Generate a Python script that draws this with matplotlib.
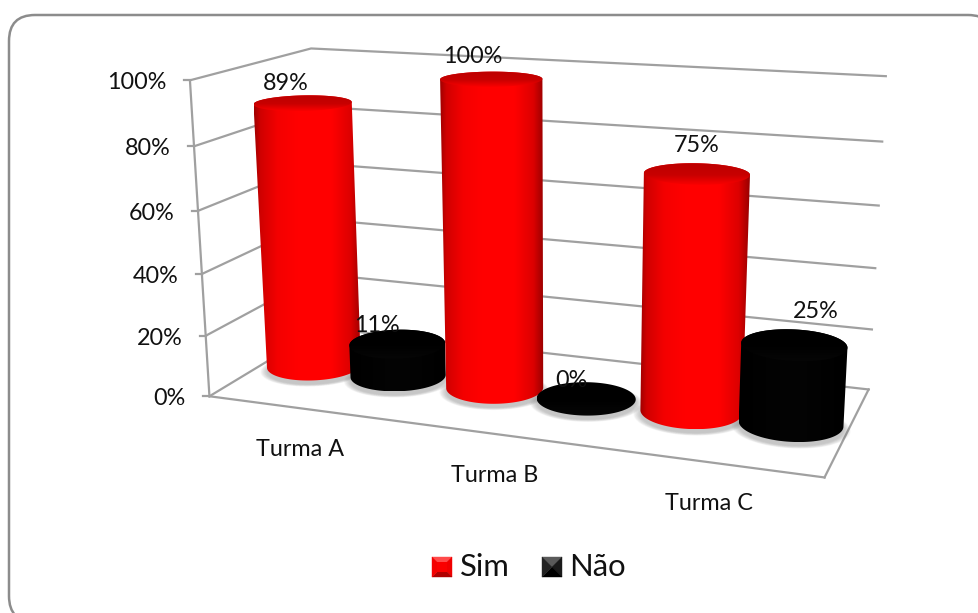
import matplotlib
matplotlib.use("Agg")
import matplotlib.pyplot as plt
import numpy as np
from matplotlib.colors import LinearSegmentedColormap
from matplotlib.patches import FancyBboxPatch, Polygon

categories = ["Turma A", "Turma B", "Turma C"]
sim_values = [89, 100, 75]
nao_values = [11, 0, 25]
y_ticks = [0, 20, 40, 60, 80, 100]
series_names = ["Sim", "Não"]

GRID = "#a0a0a0"
TEXT = "#111111"
FONT = "Lato"
BAR_HEIGHT = 0.99
# the two bars of a group overlap a little
SIM_SHIFT = 0.003
NAO_SHIFT = -0.005

# box corners (x, depth, height) -> picture pixels, used to fit the 3d view
BOX_CORNERS = [
    ((0, 0, 0), (208, 396)),
    ((1, 0, 0), (825, 477)),
    ((1, 1, 0), (868, 390)),
    ((0, 1, 0), (324, 328)),
    ((0, 0, 1), (191, 81)),
    ((0, 1, 1), (310, 48)),
    ((1, 1, 1), (886, 76)),
]

red_body = LinearSegmentedColormap.from_list(
    "red_body",
    [(0, "#a00000"), (0.06, "#d00000"), (0.22, "#f40000"), (0.4, "#ff0000"),
     (0.72, "#ff0000"), (0.9, "#dc0000"), (1, "#980000")],
)
red_cap = LinearSegmentedColormap.from_list(
    "red_cap", [(0, "#bc0000"), (0.55, "#c80000"), (0.85, "#ea0000"), (1, "#fa0000")]
)
black_body = LinearSegmentedColormap.from_list("black_body", ["#000000", "#040404", "#000000"])
black_cap = LinearSegmentedColormap.from_list("black_cap", ["#000000", "#000000", "#060606"])


def fit_view(corners):
    rows, rhs = [], []
    for (x, y, z), (u, v) in corners:
        rows.append([x, y, z, 1, 0, 0, 0, 0, -u * x, -u * y, -u * z])
        rows.append([0, 0, 0, 0, x, y, z, 1, -v * x, -v * y, -v * z])
        rhs += [u, v]
    p = np.linalg.lstsq(np.array(rows, float), np.array(rhs, float), rcond=None)[0]
    return np.append(p, 1).reshape(3, 4)


VIEW = fit_view(BOX_CORNERS)


def project(x, y, z):
    x, y, z = np.broadcast_arrays(np.asarray(x, float), np.asarray(y, float), np.asarray(z, float))
    w = VIEW @ np.stack([x, y, z, np.ones_like(x)])
    return w[0] / w[2], w[1] / w[2]


def slot_center(slot):
    return (slot + 0.5) / 6 + (NAO_SHIFT if slot % 2 else SIM_SHIFT)


def circle(slot, height, n=160):
    t = np.linspace(0, 2 * np.pi, n, endpoint=False)
    u, v = project(slot_center(slot) + np.cos(t) / 12.5, 0.5 + 0.2 * np.sin(t), height)
    return np.column_stack([u, v])


def split_arcs(pts):
    pts = np.roll(pts, -np.argmin(pts[:, 0]), axis=0)
    k = np.argmax(pts[:, 0])
    one = pts[: k + 1]
    other = np.vstack([pts[k:], pts[:1]])[::-1]
    if one[:, 1].mean() < other[:, 1].mean():
        return one, other
    return other, one


def gradient_fill(ax, pts, cmap, vertical=False):
    left, right = pts[:, 0].min(), pts[:, 0].max()
    top, bottom = pts[:, 1].min(), pts[:, 1].max()
    ramp = np.linspace(0, 1, 256)
    ramp = ramp[:, None] if vertical else ramp[None, :]
    im = ax.imshow(ramp, cmap=cmap, vmin=0, vmax=1, extent=(left, right, bottom, top),
                   aspect="auto", interpolation="bilinear", zorder=3)
    im.set_clip_path(Polygon(pts, closed=True, transform=ax.transData))


def draw_shadow(ax, slot):
    base = circle(slot, 0)
    center = base.mean(axis=0)
    for scale in np.linspace(1.14, 1.0, 12):
        shape = center + (base - center) * scale + [0, 4]
        ax.add_patch(Polygon(shape, closed=True, fc="#808080", ec="none", alpha=0.045, zorder=2.5))


def draw_cylinder(ax, slot, value, body, cap):
    base = circle(slot, 0)
    lid = circle(slot, BAR_HEIGHT * value / 100)
    if value > 0:
        upper = split_arcs(lid)[0]
        lower = split_arcs(base)[1]
        gradient_fill(ax, np.vstack([upper, lower[::-1]]), body)
    gradient_fill(ax, lid, cap, vertical=True)


def draw_swatch(ax, x, y, size, inset, shades, center):
    outer = [(x, y), (x + size, y), (x + size, y + size), (x, y + size)]
    inner = [(x + inset, y + inset), (x + size - inset, y + inset),
             (x + size - inset, y + size - inset), (x + inset, y + size - inset)]
    for i, color in enumerate(shades):
        j = (i + 1) % 4
        ax.add_patch(Polygon([outer[i], outer[j], inner[j], inner[i]], closed=True,
                             fc=color, ec=color, lw=0.3, zorder=4))
    ax.add_patch(Polygon(inner, closed=True, fc=center, ec="none", zorder=4))


fig = plt.figure(figsize=(9.79, 6.13), dpi=100)
ax = fig.add_axes([0, 0, 1, 1])
ax.axis("off")

# the frame runs off the right and bottom of the picture
frame = FancyBboxPatch((9, 15), 985, 607, boxstyle="round,pad=0,rounding_size=26",
                       fc="white", ec="#8c8c8c", lw=1.8, zorder=1)
ax.add_patch(frame)

# walls and floor
for tick in y_ticks:
    z = tick / 100
    u, v = project([0, 0, 1], [0, 1, 1], [z, z, z])
    ax.plot(u, v, color=GRID, lw=1.6, zorder=2)
    ax.plot([u[0] - 6, u[0]], [v[0], v[0]], color=GRID, lw=1.6, zorder=2)
    ax.text(u[0] - 23.5, v[0] + 2.5, f"{tick}%", ha="right", va="center",
            fontsize=16.8, family=FONT, color=TEXT, zorder=6)

for a, b in [((0, 0, 0), (0, 0, 1)), ((0, 0, 0), (1, 0, 0)), ((1, 0, 0), (1, 1, 0))]:
    u, v = project(*zip(a, b))
    ax.plot(u, v, color=GRID, lw=1.6, zorder=2)

# sim and nao sit side by side, six slots across the floor
slots = []
for i in range(len(categories)):
    slots.append((2 * i, sim_values[i], red_body, red_cap))
    slots.append((2 * i + 1, nao_values[i], black_body, black_cap))

for slot, value, _, _ in slots:
    draw_shadow(ax, slot)
for slot, value, body, cap in slots:
    draw_cylinder(ax, slot, value, body, cap)

label_offsets = [(-17, -20), (-20, -18), (-18, -22), (-15, -18), (0, -28), (22, -33)]
for (slot, value, _, _), (dx, dy) in zip(slots, label_offsets):
    u, v = project(slot_center(slot), 0.5, BAR_HEIGHT * value / 100)
    ax.text(u + dx, v + dy, f"{value}%", ha="center", va="center",
            fontsize=16.8, family=FONT, color=TEXT, zorder=6)

for i, name in enumerate(categories):
    u, v = project((2 * i + 1) / 6, 0, 0)
    ax.text(u - 1, v + 41, name, ha="center", va="center",
            fontsize=16.8, family=FONT, color=TEXT, zorder=6)

# legend
draw_swatch(ax, 432, 557, 20, 5, ["#ff4a4a", "#f00000", "#b00000", "#f40000"], "#fa0000")
draw_swatch(ax, 542, 557, 20, 10, ["#5a5a5a", "#1a1a1a", "#000000", "#222222"], "#000000")
ax.text(460, 567, series_names[0], ha="left", va="center", fontsize=22.3, family=FONT, color=TEXT, zorder=6)
ax.text(569, 567, series_names[1], ha="left", va="center", fontsize=22.3, family=FONT, color=TEXT, zorder=6)

ax.set_xlim(0, 979)
ax.set_ylim(613, 0)
fig.savefig("out.png", dpi=100)
